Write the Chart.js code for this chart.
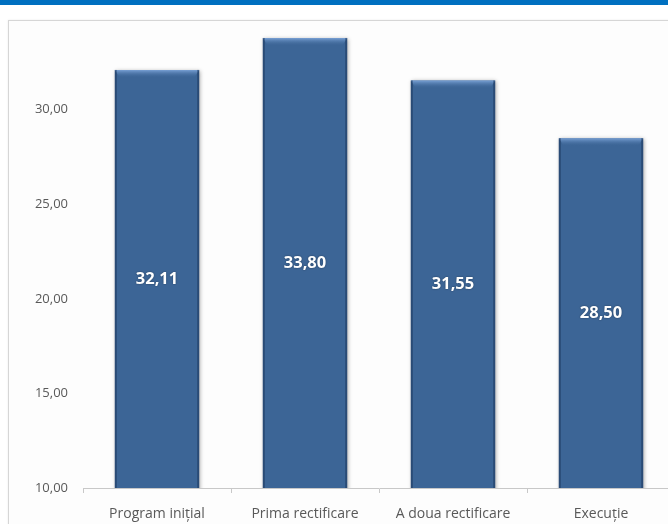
<!DOCTYPE html>
<html>
<head>
<meta charset="utf-8">
<script src="https://cdn.jsdelivr.net/npm/chart.js@4"></script>
<style>
  html, body { margin: 0; padding: 0; background: #fff; overflow: hidden; }
  body { width: 668px; height: 524px; position: relative; }
  #band { position: absolute; left: 0; top: 0; width: 668px; height: 5px; background: #0070c0; }
  #frame { position: absolute; left: 8px; top: 20px; width: 700px; height: 540px;
           border: 1px solid #d6d6d6; background: #fdfdfd; box-shadow: 0 0 2px rgba(0,0,0,0.08); }
  #wrap { position: absolute; left: 0; top: 0; width: 700px; height: 524px; }
</style>
</head>
<body>
<div id="band"></div>
<div id="frame"></div>
<div id="wrap"><canvas id="myChart" width="700" height="524"></canvas></div>
<script>
//*************chart data******************* */
const categories = ["Program inițial", "Prima rectificare", "A doua rectificare", "Execuție"];
const values = [32.11, 33.80, 31.55, 28.50];
const yTicks = [10, 15, 20, 25, 30];
const yMin = 10, yMax = 34.6;
//********************************************** */

const fmt = (v) => v.toFixed(2).replace(".", ",");
const barColor = "#3c6596";

// bevel + shadow look of the bars, value labels in the middle
const bevelPlugin = {
  id: "bevel",
  beforeDatasetsDraw(chart) {
    const ctx = chart.ctx;
    ctx.save();
    ctx.shadowColor = "rgba(0,0,0,0.35)";
    ctx.shadowBlur = 4;
    ctx.shadowOffsetX = 1;
    ctx.shadowOffsetY = 1;
  },
  afterDatasetsDraw(chart) {
    const ctx = chart.ctx;
    ctx.restore();
    const bottom = chart.chartArea.bottom;
    const meta = chart.getDatasetMeta(0);
    meta.data.forEach((bar, i) => {
      const left = bar.x - bar.width / 2, right = bar.x + bar.width / 2;
      const top = bar.y;
      const base = Math.min(bar.base, bottom);
      ctx.save();
      // top light strip
      let g = ctx.createLinearGradient(0, top, 0, top + 8);
      g.addColorStop(0, "#7aa2d6");
      g.addColorStop(1, "rgba(60,101,150,0)");
      ctx.fillStyle = g;
      ctx.beginPath();
      ctx.moveTo(left, top);
      ctx.lineTo(right, top);
      ctx.lineTo(right - 5, top + 8);
      ctx.lineTo(left + 5, top + 8);
      ctx.closePath();
      ctx.fill();
      // dark side edges
      ctx.fillStyle = "rgba(20,45,80,0.45)";
      ctx.fillRect(left, top, 2, base - top);
      ctx.fillRect(right - 2, top, 2, base - top);
      // value label
      ctx.fillStyle = "#ffffff";
      ctx.font = "bold 16.5px 'Open Sans', sans-serif";
      ctx.textAlign = "center";
      ctx.textBaseline = "middle";
      ctx.shadowColor = "rgba(0,0,0,0.4)";
      ctx.shadowBlur = 2;
      ctx.fillText(fmt(values[i]), bar.x, (top + base) / 2);
      ctx.restore();
    });
  },
};

const config = {
  type: "bar",
  data: {
    labels: categories,
    datasets: [
      {
        data: values,
        backgroundColor: barColor,
        borderWidth: 0,
        categoryPercentage: 1,
        barPercentage: 0.57,
      },
    ],
  },
  options: {
    responsive: false,
    animation: false,
    layout: { padding: { top: 20, right: 25, left: 0, bottom: 0 } },
    plugins: {
      legend: { display: false },
      tooltip: { enabled: false },
    },
    scales: {
      x: {
        grid: {
          display: true,
          drawOnChartArea: false,
          drawTicks: true,
          tickLength: 5,
          color: "#c8c8c8",
        },
        border: { display: true, color: "#c8c8c8" },
        ticks: {
          color: "#595959",
          font: { family: "'Open Sans', sans-serif", size: 14 },
          padding: 13,
          maxRotation: 0,
        },
        afterFit: (scale) => { scale.height = 36; },
      },
      y: {
        min: yMin,
        max: yMax,
        grid: { display: false, drawTicks: false },
        border: { display: false },
        ticks: {
          stepSize: 5,
          color: "#595959",
          font: { family: "'Open Sans', sans-serif", size: 13 },
          padding: 15,
          callback: (v) => fmt(v),
        },
        afterBuildTicks: (scale) => {
          scale.ticks = yTicks.map((v) => ({ value: v }));
        },
        afterFit: (scale) => { scale.width = 83; },
      },
    },
  },
  plugins: [bevelPlugin],
};

const myChart = new Chart(document.getElementById("myChart"), config);
</script>
</body>
</html>
